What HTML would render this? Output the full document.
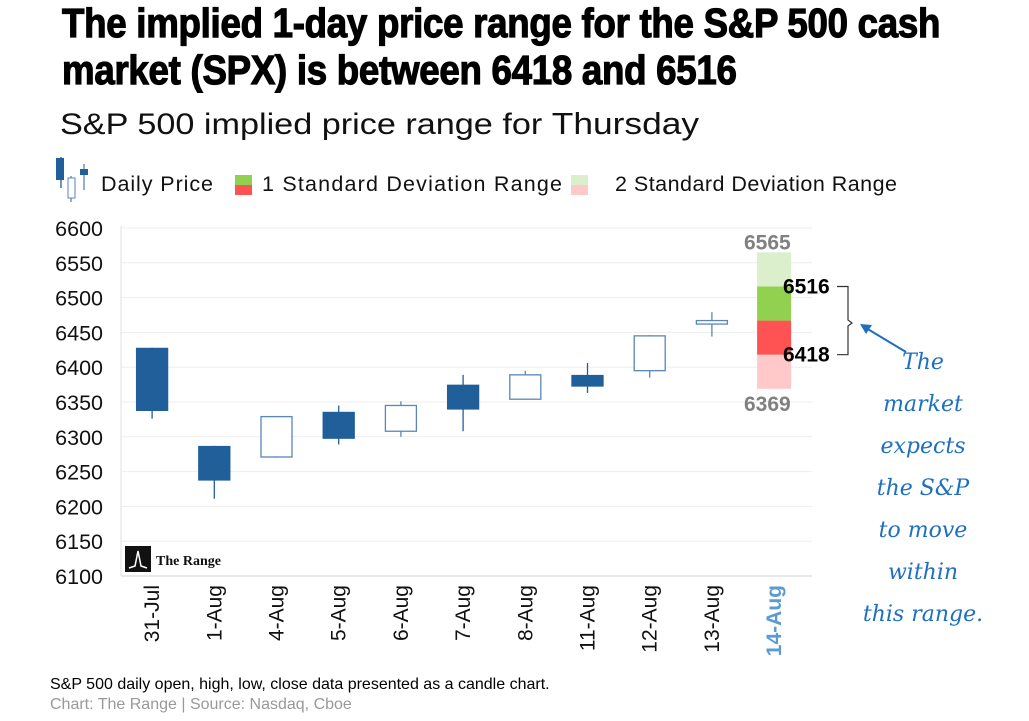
<!DOCTYPE html>
<html><head><meta charset="utf-8"><style>
body{margin:0;background:#fff;width:1029px;height:721px;overflow:hidden;font-family:"Liberation Sans",sans-serif;}
.t{position:absolute;white-space:nowrap;}
</style></head><body>
<div class="t" style="left:62px;top:0px;font-family:'Liberation Sans Narrow','Liberation Sans',sans-serif;font-weight:bold;font-size:41px;line-height:47px;transform:scaleX(0.894);transform-origin:0 0;letter-spacing:-0.3px;-webkit-text-stroke:1.2px #000">The implied 1-day price range for the S&amp;P 500 cash<br>market (SPX) is between 6418 and 6516</div>
<div class="t" style="left:60px;top:106px;font-size:30px;color:#111;transform:scaleX(1.14);transform-origin:0 0">S&amp;P 500 implied price range for <span style="font-size:31px">Thursday</span></div>
<svg id="c" width="1029" height="721" style="position:absolute;left:0;top:0"></svg>
<div class="t" style="left:50px;top:676px;font-size:16px;color:#000">S&amp;P 500 daily open, high, low, close data presented as a candle chart.</div>
<div class="t" style="left:50px;top:696px;font-size:16px;color:#999">Chart: The Range | Source: Nasdaq, Cboe</div>
<div class="t" style="left:848px;top:342px;width:150px;text-align:center;font-family:'DejaVu Serif',serif;font-style:italic;font-size:22px;line-height:42px;color:#1f6fc0;white-space:normal">The<br>market<br>expects<br>the S&amp;P<br>to move<br>within<br>this range.</div>
<script>
const categories=["31-Jul","1-Aug","4-Aug","5-Aug","6-Aug","7-Aug","8-Aug","11-Aug","12-Aug","13-Aug","14-Aug"];
const opens=[6427,6286,6271,6335,6308,6374,6354,6388,6395,6462];
const highs=[6428,6287,6330,6345,6351,6389,6395,6406,6446,6479];
const lows=[6326,6211,6270,6289,6300,6308,6354,6363,6385,6444];
const closes=[6338,6238,6329,6298,6345,6340,6389,6373,6445,6467];
const rangeVals=[6369,6418,6467,6516,6565];
const yTicks=[6100,6150,6200,6250,6300,6350,6400,6450,6500,6550,6600];
const NS="http://www.w3.org/2000/svg",svg=document.getElementById('c');
const X0=121,BW=62.2,Y0=576,YS=0.696;
const x=i=>X0+BW*(i+0.5), y=v=>Y0-(v-6100)*YS;
function el(t,a,p){const e=document.createElementNS(NS,t);for(const k in a)e.setAttribute(k,a[k]);(p||svg).appendChild(e);return e;}
yTicks.forEach(v=>{
 const g=el('line',{x1:X0,x2:812,y1:y(v),y2:y(v),stroke:v==6100?'#d0d0d0':'#eeeeee','stroke-width':1});
 
 
 const t=el('text',{x:103,y:y(v)+8,'text-anchor':'end','font-size':21.5,fill:'#111','font-family':'Liberation Sans'});t.textContent=v;
 
 
});
el('line',{x1:X0,x2:X0,y1:226,y2:576,stroke:'#e0e0e0'});
categories.forEach((c,i)=>{
 const t=el('text',{transform:`translate(${x(i)+7},585) rotate(-90)`,'text-anchor':'end','font-size':21,fill:i==10?'#5b9bd5':'#111','font-weight':i==10?'bold':'normal','font-family':'Liberation Sans'});t.textContent=c;
 
 
});
opens.forEach((o,i)=>{
 const c=closes[i],up=c>=o,cx=x(i);
 const w=el('line',{x1:cx,x2:cx,y1:y(highs[i]),y2:y(lows[i]),stroke:up?'#5a86b8':'#215f9a','stroke-width':1.3});
 
 
 const top=y(Math.max(o,c)),h=Math.max(2,Math.abs(y(o)-y(c)));
 const b=el('rect',{x:cx-15.5,y:top,width:31,height:h,fill:up?'#fff':'#215f9a',stroke:up?'#5a86b8':'#215f9a','stroke-width':1.3});
 
 
});
const rc=x(10),cols=['#ffc9c9','#ff5252','#92d050','#dcefcc'];
for(let k=0;k<4;k++){
 const r=el('rect',{x:rc-17,y:y(rangeVals[k+1]),width:34,height:y(rangeVals[k])-y(rangeVals[k+1]),fill:cols[k]});
 
 
}
function lbl(v,xx,yy,col,name){const t=el('text',{x:xx,y:yy,'font-size':21,'font-weight':'bold',fill:col,'font-family':'Liberation Sans'});t.textContent=v;
 
 }
lbl(rangeVals[4],744,y(rangeVals[4])-3,'#808080','label-6565');
lbl(rangeVals[0],744,y(rangeVals[0])+22,'#808080','label-6369');
lbl(rangeVals[3],783,y(rangeVals[3])+7,'#000','label-6516');
lbl(rangeVals[1],783,y(rangeVals[1])+7,'#000','label-6418');
const br=el('path',{d:`M837 ${y(6516)} H848 V320 L852 323 L848 326 V${y(6418)} H837`,fill:'none',stroke:'#333','stroke-width':1.2});


const ar=el('line',{x1:906,y1:352,x2:866,y2:328,stroke:'#1f6fc0','stroke-width':2});


el('path',{d:'M860 324 L872 325 L866 334 Z',fill:'#1f6fc0'});
// legend
const lg=el('g',{});


el('line',{x1:61,x2:61,y1:157,y2:188,stroke:'#215f9a','stroke-width':1.3},lg);
el('rect',{x:56,y:158,width:8,height:22,fill:'#215f9a'},lg);
el('line',{x1:71,x2:71,y1:176,y2:202,stroke:'#5a86b8','stroke-width':1.3},lg);
el('rect',{x:68,y:178,width:7,height:20,fill:'#fff',stroke:'#5a86b8'},lg);
el('line',{x1:84,x2:84,y1:164,y2:190,stroke:'#5a86b8','stroke-width':1.3},lg);
el('rect',{x:80,y:169,width:8,height:6,fill:'#215f9a'},lg);
const lt=[[101,'Daily Price',112],[262,'1 Standard Deviation Range',300],[615,'2 Standard Deviation Range',282]];
lt.forEach(a=>{const t=el('text',{x:a[0],y:191,'font-size':21.5,fill:'#111','font-family':'Liberation Sans',textLength:a[2],lengthAdjust:'spacing'},lg);t.textContent=a[1];});
el('rect',{x:235,y:175,width:17,height:10,fill:'#92d050'},lg);el('rect',{x:235,y:185,width:17,height:10,fill:'#ff5252'},lg);
el('rect',{x:571,y:175,width:17,height:10,fill:'#dcefcc'},lg);el('rect',{x:571,y:185,width:17,height:10,fill:'#ffc9c9'},lg);
// logo
const lo=el('g',{});


el('rect',{x:125,y:546,width:26,height:26,fill:'#111'},lo);
el('path',{d:'M129 568 L135 566 L138 551 L141 566 L147 568',fill:'none',stroke:'#fff','stroke-width':1.5},lo);
const lt2=el('text',{x:156,y:565,'font-size':14,'font-weight':'bold','font-family':'Liberation Serif',fill:'#111'},lo);lt2.textContent='The Range';
</script>
</body></html>
